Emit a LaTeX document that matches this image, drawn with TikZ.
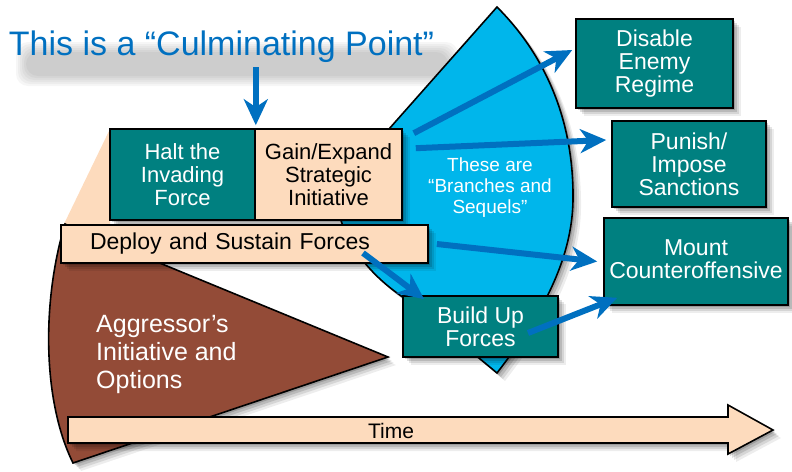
\documentclass[tikz,border=0pt]{standalone}
\usepackage{fontspec}
\setmainfont{Liberation Sans}
\usetikzlibrary{arrows.meta,shadows,calc}
\definecolor{tealbox}{RGB}{0,128,128}
\definecolor{peach}{RGB}{253,219,189}
\definecolor{brownw}{RGB}{147,75,55}
\definecolor{leafblue}{RGB}{0,182,235}
\definecolor{arrowblue}{RGB}{0,112,192}
\tikzset{
  softshadow/.style={
    drop shadow={shadow xshift=2pt,shadow yshift=-2pt,opacity=.16,fill=black},
    drop shadow={shadow xshift=4pt,shadow yshift=-4pt,opacity=.13,fill=black},
    drop shadow={shadow xshift=6pt,shadow yshift=-6pt,opacity=.10,fill=black},
    drop shadow={shadow xshift=8pt,shadow yshift=-8pt,opacity=.07,fill=black}},
  box/.style={draw=black, line width=1.6pt, inner sep=0pt, align=center,
    font=\fontsize{23}{23}\selectfont, softshadow},
  tbox/.style={box, fill=tealbox, text=white},
  pbox/.style={box, fill=peach, text=black},
  bluearrow/.style={draw=arrowblue, line width=6pt,
    -{Stealth[length=26pt,width=24pt,inset=8pt]}},
  haze/.style={fill=black, opacity=.035, rounded corners=12pt}
}
\begin{document}
\begin{tikzpicture}[x=1pt,y=-1pt]
\useasboundingbox (0,0) rectangle (792,471);
% soft haze under the title
\foreach \d in {0,2,4,6,8,10}
  \fill[haze] (26-\d,52-\d) rectangle (448+\d,76+\d);
\node[font=\fontsize{34}{36}\selectfont, anchor=base, inner sep=0pt, text=arrowblue] (title) at (221.5,55) {This is a “Culminating Point”};
% background wedge
\fill[peach] (110,129) -- (64,224) -- (110,224) -- cycle;
% aggressor wedge
\draw[fill=brownw, line width=1.6pt, softshadow]
  (73,463) -- (388,357) -- (65,224) .. controls (42,300) and (42,400) .. (73,463) -- cycle;
% branches leaf
\draw[fill=leafblue, line width=1.6pt, softshadow]
  (497,7) -- (335,190) .. controls (338,235) and (365,275) .. (415,305) -- (497,373)
  .. controls (530,330) and (572,270) .. (573,200)
  .. controls (574,120) and (545,55) .. (497,7) -- cycle;
% boxes
\node[tbox, minimum width=145pt, minimum height=91pt, font=\fontsize{22}{23}\selectfont] (halt) at (182.5,174.5) {Halt the\\Invading\\Force};
\node[pbox, minimum width=147pt, minimum height=91pt, font=\fontsize{22}{23}\selectfont] (gain) at (328.5,174.5) {Gain/Expand\\Strategic\\Initiative};
\node[pbox, minimum width=367pt, minimum height=38pt, text width=309pt, align=left] (deploy) at (244.5,244) {Deploy and Sustain Forces};
% time arrow
\draw[fill=peach, line width=1.6pt, softshadow]
  (68,417) -- (728,417) -- (728,405) -- (773,430) -- (728,454) -- (728,443) -- (68,443) -- cycle;
\node[font=\fontsize{21}{22}\selectfont, inner sep=0pt] (time) at (391,431) {Time};
\node[tbox, minimum width=155pt, minimum height=61pt] (buildup) at (480.5,326.5) {Build Up\\Forces};
\node[tbox, minimum width=157pt, minimum height=89pt] (disable) at (654.5,63.5) {Disable\\Enemy\\Regime};
\node[tbox, minimum width=154pt, minimum height=86pt] (punish) at (689,164) {Punish/\\Impose\\Sanctions};
\node[tbox, minimum width=184pt, minimum height=87pt, text depth=5pt] (mount) at (696,261.5) {Mount\\Counteroffensive};
% texts
\node[font=\fontsize{19}{21}\selectfont, text=white, align=center, inner sep=0pt] (branches) at (490,188) {These are\\“Branches and\\Sequels”};
\node[font=\fontsize{25}{28}\selectfont, text=white, align=left, anchor=west, inner sep=0pt] (aggr) at (96,354) {Aggressor’s\\Initiative and\\Options};
% arrows
\draw[bluearrow] ([yshift=-5pt]title.south -| halt.north east) -- ([yshift=3pt]halt.north east);
\draw[bluearrow] ([xshift=11pt,yshift=-5pt]gain.north east) -- ([xshift=-3pt,yshift=13.5pt]disable.west);
\draw[bluearrow] ([xshift=13pt,yshift=-20pt]gain.north east) -- ([xshift=-5pt,yshift=24pt]punish.west);
\draw[bluearrow] ([xshift=8pt]deploy.east) -- ([xshift=-6pt]mount.west);
\draw[bluearrow] ([xshift=118.5pt,yshift=-9pt]deploy.center) -- ([xshift=22pt,yshift=-4pt]buildup.north west);
\draw[bluearrow] ([xshift=47.5pt,yshift=-6.5pt]buildup.center) -- ([xshift=14pt,yshift=8pt]mount.south west);
\end{tikzpicture}
\end{document}
